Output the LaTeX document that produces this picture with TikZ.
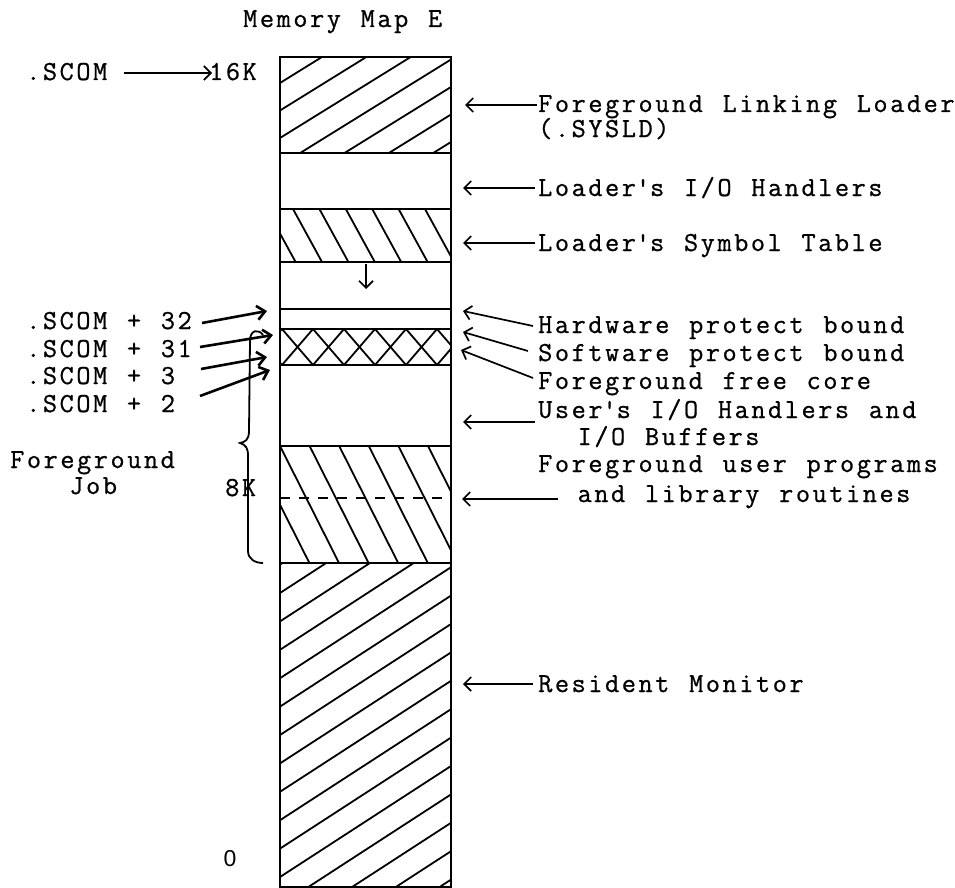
\documentclass[tikz,border=0pt]{standalone}
\usepackage{fontspec}
\newfontfamily\typew[LetterSpace=9.3,WordSpace=1.18,FakeBold=0.8]{Latin Modern Mono}
\newfontfamily\zerofont{Liberation Sans}
\usetikzlibrary{arrows.meta}
\tikzset{
  lbl/.style={anchor=base west, inner sep=0pt, font=\typew\fontsize{27.5pt}{32pt}\selectfont},
  frame/.style={line width=2.6pt},
  sep/.style={line width=2.2pt},
  hatch/.style={line width=1.8pt},
  ptr/.style={line width=1.7pt, -{Straight Barb[length=7pt,width=14pt]}},
  bptr/.style={line width=2.6pt, -{Straight Barb[length=8pt,width=14pt]}},
}
\begin{document}
\begin{tikzpicture}[x=1pt,y=-1pt]
\useasboundingbox (0,0) rectangle (955,888);
\def\xl{280}\def\xr{451}
% ---- hatching ----
\begin{scope}
  \clip (\xl,57) rectangle (\xr,153);
  \foreach \c in {-1,...,7} \draw[hatch] (\xl,83+27.5*\c) -- (\xr,83+27.5*\c-106);
\end{scope}
\begin{scope}
  \clip (\xl,209) rectangle (\xr,262);
  \foreach \k in {-2,...,6} \draw[hatch] (293+26.4*\k,209) -- (322+26.4*\k,262);
\end{scope}
\begin{scope}
  \clip (\xl,329) rectangle (\xr,365);
  \foreach \k in {-1,...,6} {
    \draw[hatch] (282+31*\k,329) -- (313+31*\k,365);
    \draw[hatch] (313+31*\k,329) -- (282+31*\k,365);
  }
\end{scope}
\begin{scope}
  \clip (\xl,446) rectangle (\xr,563);
  \foreach \k in {-2,...,6} \draw[hatch] (280+29.6*\k,446) -- (339+29.6*\k,563);
\end{scope}
\begin{scope}
  \clip (\xl,563) rectangle (\xr,887);
  \foreach \c in {-1,...,15} \draw[hatch] (\xl,593+28.4*\c) -- (\xr,593+28.4*\c-111);
\end{scope}
% ---- column ----
\draw[frame] (\xl,57) rectangle (\xr,887);
\foreach \y in {153,209,262,309,329,365,446,563} \draw[sep] (\xl,\y) -- (\xr,\y);
\draw[line width=1.8pt, dash pattern=on 10pt off 9pt] (\xl,498) -- (\xr,498);
\coordinate (dA) at (366,264);
\coordinate (dB) at (366,289);
\draw[ptr] (dA) -- (dB);
% ---- title ----
\node[lbl] (title) at (243,27) {Memory Map E};
% ---- left side ----
\node[lbl] (scom) at (26,80) {.SCOM};
\node[lbl] (k16) at (209,80) {16K};
\coordinate (s0) at (124,73);
\coordinate (s1) at (212,73);
\draw[ptr] (s0) -- (s1);
\node[lbl] (p32) at (26,329) {.SCOM + 32};
\node[lbl] (p31) at (26,357) {.SCOM + 31};
\node[lbl] (p3) at (26,384) {.SCOM + 3};
\node[lbl] (p2) at (26,412) {.SCOM + 2};
\coordinate (a32) at (202,323); \coordinate (b32) at (267,311);
\coordinate (a31) at (200,347); \coordinate (b31) at (273,335);
\coordinate (a3) at (201,369);  \coordinate (b3) at (267,357);
\coordinate (a2) at (200,396);  \coordinate (b2) at (270,370);
\draw[bptr] (a32) -- (b32);
\draw[bptr] (a31) -- (b31);
\draw[bptr] (a3) -- (b3);
\draw[bptr] (a2) -- (b2);
\node[lbl] (fgj) at (10,468) {Foreground};
\node[lbl] (job) at (10,494) {~~~Job};
\node[lbl] (k8) at (225,496) {8K};
\draw[line width=1.8pt] (263,335) .. controls (259,329) and (250,329) .. (250,341)
  -- (249,431) .. controls (249,440) and (245,442) .. (240,443)
  .. controls (246,445) and (248,448) .. (248,456)
  -- (248,551) .. controls (248,559) and (255,563) .. (263,563);
\node[anchor=base, inner sep=0pt, font=\zerofont\fontsize{23pt}{26pt}\selectfont] (zero) at (230,866) {0};
% ---- right side ----
\node[lbl] (fll) at (538,112) {Foreground Linking Loader};
\node[lbl] (sysld) at (538,137) {(.SYSLD)};
\node[lbl] (lio) at (538,196) {Loader\textquotesingle s I/O Handlers};
\node[lbl] (lst) at (538,251) {Loader\textquotesingle s Symbol Table};
\node[lbl] (hpb) at (538,333) {Hardware protect bound};
\node[lbl] (spb) at (538,361) {Software protect bound};
\node[lbl] (ffc) at (538,389) {Foreground free core};
\node[lbl] (uio) at (538,418) {User\textquotesingle s I/O Handlers and};
\node[lbl] (uio2) at (538,445) {~~I/O Buffers};
\node[lbl] (fup) at (538,472) {Foreground user programs};
\node[lbl] (fup2) at (538,502) {~~and library routines};
\node[lbl] (rm) at (538,692) {Resident Monitor};
\coordinate (r1a) at (537,105); \coordinate (r1b) at (465,105);
\coordinate (r2a) at (535,188); \coordinate (r2b) at (463,188);
\coordinate (r3a) at (535,243); \coordinate (r3b) at (463,243);
\coordinate (r4a) at (533,326); \coordinate (r4b) at (463,311);
\coordinate (r5a) at (528,351); \coordinate (r5b) at (463,332);
\coordinate (r6a) at (533,378); \coordinate (r6b) at (461,350);
\coordinate (r7a) at (535,422); \coordinate (r7b) at (463,422);
\coordinate (r8a) at (558,499); \coordinate (r8b) at (462,499);
\coordinate (r9a) at (533,684); \coordinate (r9b) at (463,684);
\foreach \i in {1,...,9} \draw[ptr] (r\i a) -- (r\i b);
\end{tikzpicture}
\end{document}
